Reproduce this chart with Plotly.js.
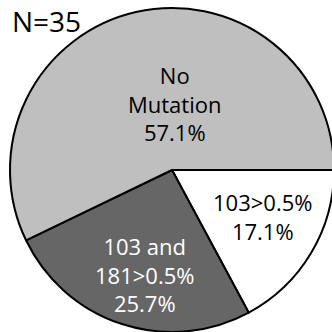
<!DOCTYPE html>
<html>
<head>
<meta charset="utf-8">
<script src="https://cdn.plot.ly/plotly-3.0.1.min.js"></script>
<style>
html,body{margin:0;padding:0;width:332px;height:332px;overflow:hidden;background:#fff;}
#chart{position:absolute;left:0;top:0;}
</style>
</head>
<body>
<div id="chart"></div>
<script>
// Data
var categories = ['103>0.5%', '103 and 181>0.5%', 'No Mutation'];
var displayLabels = ['103>0.5%', '103 and<br>181>0.5%', 'No<br>Mutation'];
var counts = [6, 9, 20];
var percentLabels = ['17.1%', '25.7%', '57.1%'];
var sliceColors = ['#ffffff', '#666666', '#bfbfbf'];
var textColors = ['#000000', '#ffffff', '#000000'];
var totalN = 35;

// label anchor positions (paper fractions of the pie area)
var labelX = [0.778, 0.414, 0.509];
var labelY = [0.356, 0.177, 0.704];

var trace = {
  type: 'pie',
  labels: categories,
  values: counts,
  textinfo: 'none',
  sort: false,
  direction: 'clockwise',
  rotation: 90,
  marker: {colors: sliceColors, line: {color: '#000000', width: 2}},
  hoverinfo: 'none',
  showlegend: false,
  domain: {x: [0, 1], y: [0, 1]}
};

var annotations = categories.map(function (c, i) {
  return {
    text: displayLabels[i] + '<br>' + percentLabels[i],
    xref: 'paper', yref: 'paper',
    x: labelX[i], y: labelY[i],
    xanchor: 'center', yanchor: 'middle',
    showarrow: false,
    font: {family: 'Open Sans, sans-serif', size: 22, color: textColors[i]}
  };
});
annotations.push({
  text: 'N=' + totalN,
  xref: 'paper', yref: 'paper',
  x: 0.0, y: 1.024,
  xanchor: 'left', yanchor: 'top',
  showarrow: false,
  font: {family: 'Open Sans, sans-serif', size: 28, color: '#000000'}
});

var layout = {
  width: 340,
  height: 340,
  margin: {l: 10, r: 6, t: 8, b: 8},
  paper_bgcolor: 'rgba(0,0,0,0)',
  plot_bgcolor: 'rgba(0,0,0,0)',
  showlegend: false,
  annotations: annotations
};

Plotly.newPlot('chart', [trace], layout, {displayModeBar: false, staticPlot: true});
</script>
</body>
</html>
